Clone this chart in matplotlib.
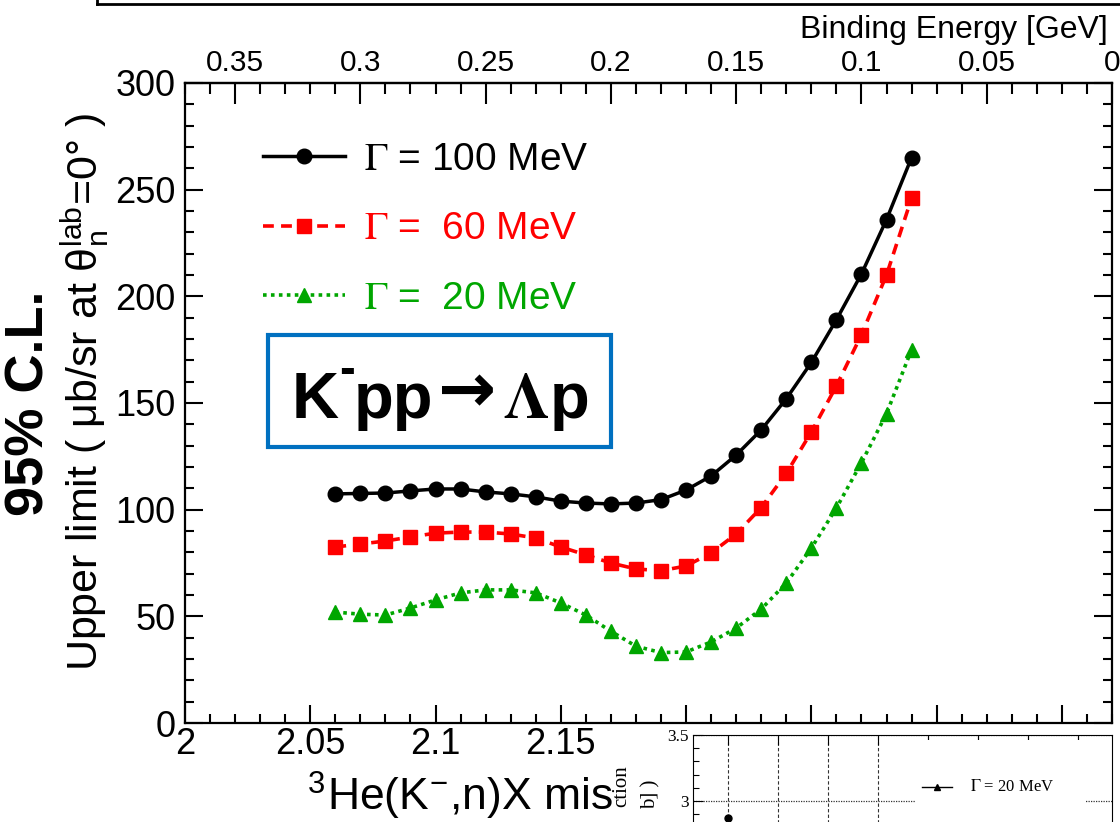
import matplotlib
matplotlib.use("Agg")
import matplotlib.pyplot as plt
from matplotlib.ticker import MultipleLocator, FuncFormatter
from matplotlib.patches import Rectangle
from matplotlib.lines import Line2D

# ---------- data ----------
mass = [2.06, 2.07, 2.08, 2.09, 2.10, 2.11, 2.12, 2.13, 2.14, 2.15, 2.16, 2.17,
        2.18, 2.19, 2.20, 2.21, 2.22, 2.23, 2.24, 2.25, 2.26, 2.27, 2.28, 2.29]
ul_100 = [107.4, 107.6, 107.8, 108.8, 109.7, 109.7, 108.3, 107.4, 106.0, 104.0, 103.1, 102.7,
          103.1, 104.7, 109.2, 115.8, 125.6, 137.4, 152.0, 169.0, 189.0, 210.5, 236.0, 265.0]
ul_60 = [82.5, 83.9, 85.3, 87.2, 89.0, 89.5, 89.5, 88.6, 86.7, 82.5, 78.8, 75.0,
         72.2, 71.4, 73.6, 79.7, 88.6, 101.0, 117.0, 136.4, 158.0, 182.0, 210.0, 246.0]
ul_20 = [52.0, 51.0, 50.6, 53.9, 57.7, 61.0, 62.4, 62.4, 61.0, 56.3, 50.6, 43.0,
         36.0, 33.0, 33.3, 38.0, 44.5, 53.4, 65.6, 82.0, 100.8, 122.0, 145.0, 175.0]
labels = [r"$\Gamma$ = 100 MeV", r"$\Gamma$ =  60 MeV", r"$\Gamma$ =  20 MeV"]
threshold = 2.37  # K- p p threshold [GeV]

# small pasted panel in the corner
inset_x = [1]
inset_y = [2.87]

GREEN = "#00a600"
BLUE = "#0070c0"

plt.rcParams["font.family"] = ["Liberation Sans", "DejaVu Sans"]
plt.rcParams["mathtext.fontset"] = "stix"

W, H = 1120, 822
fig = plt.figure(figsize=(11.2, 8.22), dpi=100)


def px(x0, y0, x1, y1):
    """pixel box (top-left origin) -> figure fraction rect"""
    return [x0 / W, 1 - y1 / H, (x1 - x0) / W, (y1 - y0) / H]


def fx(x):
    return x / W


def fy(y):
    return 1 - y / H


fmt = FuncFormatter(lambda v, p: f"{round(v, 3):g}")

# ---------- main axes ----------
ax = fig.add_axes(px(185, 83, 1112, 723))
ax.plot(mass, ul_100, color="black", lw=2.5, marker="o", ms=10.5, label=labels[0])
ax.plot(mass, ul_60, color="red", lw=2.6, ls=(0, (3, 2)), marker="s", ms=9.5, label=labels[1])
ax.plot(mass, ul_20, color=GREEN, lw=2.6, ls=(0, (1, 1.2)), marker="^", ms=10.5, label=labels[2])

ax.set_xlim(2.0, threshold)
ax.set_ylim(0, 300)
ax.xaxis.set_major_locator(MultipleLocator(0.05))
ax.xaxis.set_minor_locator(MultipleLocator(0.01))
ax.yaxis.set_major_locator(MultipleLocator(50))
ax.yaxis.set_minor_locator(MultipleLocator(10))
ax.xaxis.set_major_formatter(fmt)
ax.tick_params(which="both", direction="in", top=False, right=True, width=1.5)
ax.tick_params(which="major", length=13)
ax.tick_params(which="minor", length=6.5)
ax.tick_params(axis="x", labelsize=26, pad=3)
ax.tick_params(axis="y", labelsize=26, pad=7)
for s in ax.spines.values():
    s.set_linewidth(1.6)

sec = ax.secondary_xaxis("top", functions=(lambda x: threshold - x, lambda x: threshold - x))
sec.xaxis.set_major_locator(MultipleLocator(0.05))
sec.xaxis.set_minor_locator(MultipleLocator(0.01))
sec.xaxis.set_major_formatter(fmt)
sec.tick_params(which="both", direction="in", labelsize=21.5, pad=4, width=1.5)
sec.tick_params(which="major", length=15)
sec.tick_params(which="minor", length=8)
sec.spines["top"].set_linewidth(1.6)

leg = ax.legend(loc="upper left", bbox_to_anchor=(fx(263), fy(142)),
                bbox_transform=fig.transFigure, frameon=False, fontsize=28,
                handlelength=2.1, handletextpad=0.5, labelspacing=0.86,
                borderpad=0, borderaxespad=0)
for t, c in zip(leg.get_texts(), ["black", "red", GREEN]):
    t.set_color(c)

# ---------- labels / overlays ----------
fig.text(fx(1108), fy(38), "Binding Energy [GeV]", fontsize=23, ha="right", va="baseline")
fig.text(fx(85), fy(392),
         r"Upper limit ( μb/sr at θ$_{\mathregular{n}}^{\mathregular{lab}}$=0° )",
         rotation=90, fontsize=31, ha="center", va="center")
fig.text(fx(307), fy(810),
         r"$^{\mathregular{3}}$He(K$^{\mathregular{-}}$,n)X missing mass [GeV/c$^{\mathregular{2}}$]",
         fontsize=32, ha="left", va="baseline")
fig.text(fx(30), fy(403), "95% C.L.", rotation=90, fontsize=39,
         fontweight="bold", ha="center", va="center")

# reaction box
fig.add_artist(Rectangle((fx(268), fy(447)), 343 / W, 112 / H,
                         transform=fig.transFigure, fill=False, ec=BLUE, lw=3))
fig.text(fx(292), fy(418), "K", fontsize=47, fontweight="bold", ha="left", va="baseline")
fig.text(fx(339), fy(383), "-", fontsize=34, fontweight="bold", ha="left", va="baseline")
fig.text(fx(354), fy(418), "pp", fontsize=47, fontweight="bold", ha="left", va="baseline")
fig.text(fx(467), fy(393), "→", fontsize=50, fontweight="bold", family="DejaVu Sans",
         ha="center", va="center")
fig.text(fx(503), fy(418), r"$\mathbf{\Lambda}$p", fontsize=47, fontweight="bold",
         ha="left", va="baseline")

# frame edge at the very top
fig.add_artist(Line2D([fx(97), 1], [fy(4), fy(4)], transform=fig.transFigure,
                      color="black", lw=2))
fig.add_artist(Line2D([fx(97), fx(97)], [1, fy(4)], transform=fig.transFigure,
                      color="black", lw=2))

# ---------- pasted panel (bottom right) ----------
cover = fig.add_axes(px(612, 727, 1120, 822))
cover.set_zorder(5)
cover.set_facecolor("white")
cover.set_xticks([])
cover.set_yticks([])
for s in cover.spines.values():
    s.set_visible(False)

ins_ylim = (0.97, 3.5)
ins_bottom = 735 + (ins_ylim[1] - ins_ylim[0]) * 132
ins = fig.add_axes(px(693, 735, 1112, ins_bottom))
ins.set_zorder(6)
ins.plot(inset_x, inset_y, "o", color="black", ms=5, zorder=4)
ins.set_xlim(0.3, 8.68)
ins.set_ylim(*ins_ylim)
ins.xaxis.set_major_locator(MultipleLocator(1))
ins.yaxis.set_major_locator(MultipleLocator(0.5))
ins.yaxis.set_minor_locator(MultipleLocator(0.1))
ins.yaxis.set_major_formatter(fmt)
ins.tick_params(which="both", direction="in", top=True, bottom=False, labelbottom=False,
                right=False, width=0.8)
ins.tick_params(which="major", length=7)
ins.tick_params(which="minor", length=4.5)
ins.tick_params(axis="y", labelsize=12.5, pad=3)
for lab in ins.get_yticklabels():
    lab.set_family("Liberation Serif")
ins.xaxis.grid(True, ls=(0, (3, 2)), color="#333333", lw=0.8)
ins.yaxis.grid(True, ls=(0, (1, 1)), color="#333333", lw=0.9)
for s in ins.spines.values():
    s.set_linewidth(0.8)

ins.add_patch(Rectangle(((915 - 693) / 419, 0), 170 / 419, (ins_bottom - 740) / (ins_bottom - 735),
                        transform=ins.transAxes, fc="white", ec="none", zorder=2))
ly = (ins_bottom - 787) / (ins_bottom - 735)
lx = [(922 - 693) / 419, (937 - 693) / 419, (952 - 693) / 419]
ins.plot(lx, [ly] * 3, transform=ins.transAxes, color="black", lw=1, zorder=3)
ins.plot([lx[1]], [ly], transform=ins.transAxes, color="black", marker="^", ms=5, zorder=3)
ins.text((970 - 693) / 419, ly, r"$\Gamma$ = 20 MeV", transform=ins.transAxes,
         fontsize=12, family="Liberation Serif", ha="left", va="center", zorder=3)

fig.text(fx(622), fy(765), "ction", rotation=90, rotation_mode="anchor", ha="right",
         va="center", fontsize=15, family="Liberation Serif", zorder=7)
fig.text(fx(651), fy(780), "b] )", rotation=90, rotation_mode="anchor", ha="right",
         va="center", fontsize=15, family="Liberation Serif", zorder=7)

fig.savefig("out.png", dpi=100)
